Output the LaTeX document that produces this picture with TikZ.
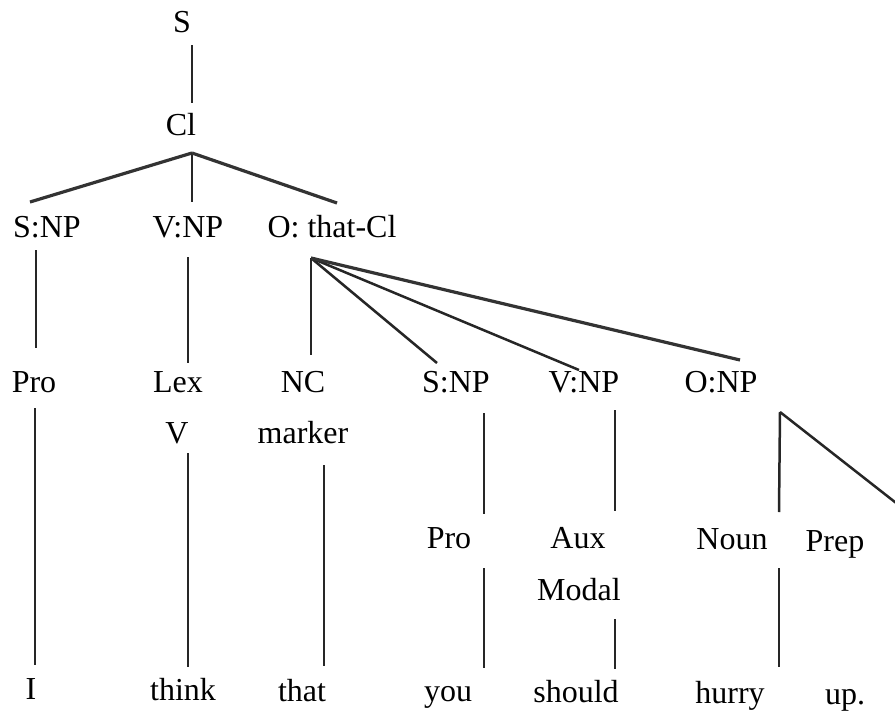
\documentclass[tikz,border=0pt]{standalone}
\usepackage{fontspec}
\setmainfont{Liberation Serif}
\begin{document}
\begin{tikzpicture}[x=1pt,y=-1pt,
  lbl/.style={anchor=base,inner sep=0pt,font=\fontsize{32}{38}\selectfont},
  br/.style={line width=2.5pt,black!85},
  thick br/.style={line width=3.2pt,black!80}]
\useasboundingbox (0,0) rectangle (895,715);
\clip (0,0) rectangle (895,715);
% labels
\node[lbl] (S) at (182,32) {S};
\node[lbl] (Cl) at (181,135) {Cl};
\node[lbl] (snp1) at (47,237) {S:NP};
\node[lbl] (vnp1) at (188,237) {V:NP};
\node[lbl] (othat) at (332,237) {O: that-Cl};
\node[lbl] (pro1) at (34,392) {Pro};
\node[lbl] (lex) at (178,392) {Lex};
\node[lbl] (v) at (177,443) {V};
\node[lbl] (nc) at (303,392) {NC};
\node[lbl] (marker) at (303,443) {marker};
\node[lbl] (snp2) at (456,392) {S:NP};
\node[lbl] (vnp2) at (584,392) {V:NP};
\node[lbl] (onp) at (721,392) {O:NP};
\node[lbl] (pro2) at (449,548) {Pro};
\node[lbl] (aux) at (578,548) {Aux};
\node[lbl] (modal) at (579,600) {Modal};
\node[lbl] (noun) at (732,549) {Noun};
\node[lbl] (prep) at (835,551) {Prep};
\node[lbl] (wI) at (31,699) {I};
\node[lbl] (wthink) at (183,700) {think};
\node[lbl] (wthat) at (302,701) {that};
\node[lbl] (wyou) at (448,701) {you};
\node[lbl] (wshould) at (576,702) {should};
\node[lbl] (whurry) at (730,703) {hurry};
\node[lbl] (wup) at (845,704) {up.};
% junction points
\coordinate (sB) at (192,45);
\coordinate (clT) at (192,103);
\coordinate (clApex) at (192,153);
\coordinate (snp1T) at (30,202);
\coordinate (vnp1T) at (192,202);
\coordinate (othatT) at (337,203);
\coordinate (snp1B) at (36,250);
\coordinate (pro1T) at (36,348);
\coordinate (vnp1B) at (188,257);
\coordinate (lexT) at (188,363);
\coordinate (othatB) at (311,258);
\coordinate (ncT) at (311,355);
\coordinate (snp2T) at (437,363);
\coordinate (vnp2T) at (579,370);
\coordinate (onpT) at (740,360);
\coordinate (pro1B) at (35,408);
\coordinate (wIT) at (35,665);
\coordinate (vB) at (188,453);
\coordinate (wthinkT) at (188,667);
\coordinate (markerB) at (324,465);
\coordinate (wthatT) at (324,666);
\coordinate (snp2B) at (484,413);
\coordinate (pro2T) at (484,514);
\coordinate (pro2B) at (484,568);
\coordinate (wyouT) at (484,668);
\coordinate (vnp2B) at (615,410);
\coordinate (auxT) at (615,511);
\coordinate (modalB) at (615,619);
\coordinate (wshouldT) at (615,669);
\coordinate (onpB) at (780,412);
\coordinate (nounT) at (779,512);
\coordinate (prepT) at (937,535);
\coordinate (nounB) at (779,568);
\coordinate (whurryT) at (779,667);
% connectors
\draw[br] (sB) -- (clT);
\draw[thick br] (clApex) -- (snp1T);
\draw[br] (clApex) -- (vnp1T);
\draw[thick br] (clApex) -- (othatT);
\draw[br] (snp1B) -- (pro1T);
\draw[br] (vnp1B) -- (lexT);
\draw[br] (othatB) -- (ncT);
\draw[br] (othatB) -- (snp2T);
\draw[br] (othatB) -- (vnp2T);
\draw[thick br] (othatB) -- (onpT);
\draw[br] (pro1B) -- (wIT);
\draw[br] (vB) -- (wthinkT);
\draw[br] (markerB) -- (wthatT);
\draw[br] (snp2B) -- (pro2T);
\draw[br] (pro2B) -- (wyouT);
\draw[br] (vnp2B) -- (auxT);
\draw[br] (modalB) -- (wshouldT);
\draw[br] (onpB) -- (nounT);
\draw[br] (onpB) -- (prepT);
\draw[br] (nounB) -- (whurryT);
\end{tikzpicture}
\end{document}
